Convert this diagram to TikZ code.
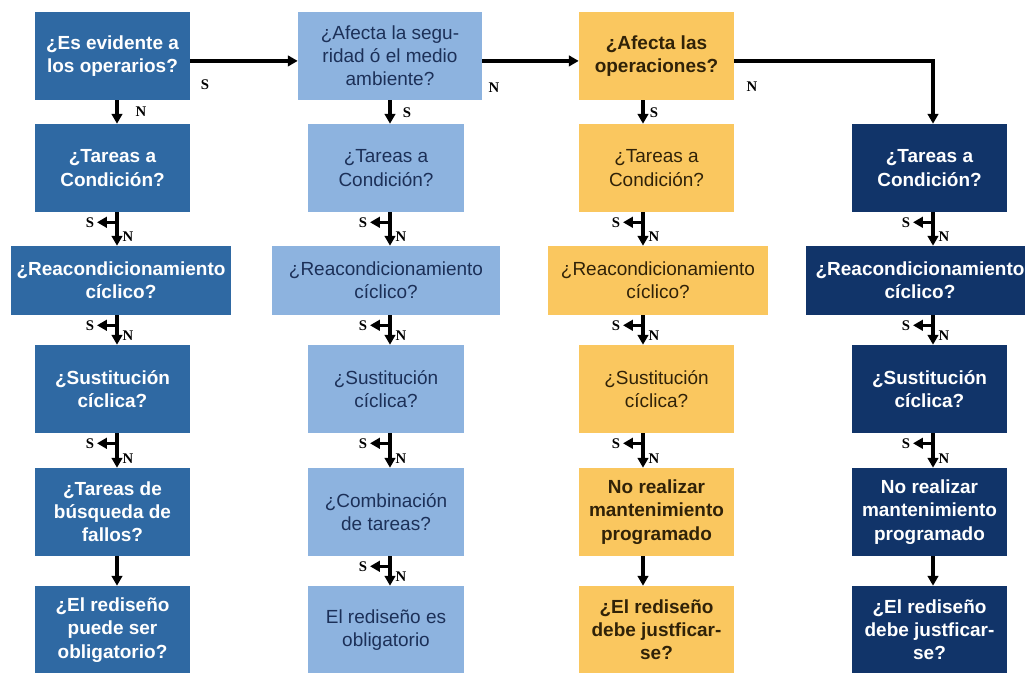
\documentclass[tikz,border=0pt]{standalone}
\usepackage{fontspec}
\setmainfont{Liberation Sans}
\newfontfamily\lblfont{Liberation Serif}
\usetikzlibrary{arrows.meta,calc}
\definecolor{colA}{RGB}{47,105,163}
\definecolor{colB}{RGB}{141,179,223}
\definecolor{colC}{RGB}{250,199,95}
\definecolor{colD}{RGB}{17,52,105}
\definecolor{txtB}{RGB}{28,48,88}
\definecolor{txtC}{RGB}{48,34,8}
\tikzset{
  box/.style={rectangle, inner sep=2pt, align=center, minimum width=3.875cm, minimum height=2.2cm,
    font=\fontsize{13.5}{16.5}\selectfont\bfseries},
  wide/.style={minimum width=5.5cm, minimum height=1.725cm},
  thin/.style={font=\fontsize{13.5}{16.5}\selectfont},
  boxA/.style={box, fill=colA, text=white},
  boxB/.style={box, thin, fill=colB, text=txtB},
  boxC/.style={box, fill=colC, text=txtC},
  boxD/.style={box, fill=colD, text=white},
  arr/.style={line width=2.3pt, -{Triangle[length=7pt,width=7.5pt]}},
  lbl/.style={font=\lblfont\fontsize{10.5}{12}\selectfont\bfseries, inner sep=1pt},
}
\begin{document}
\begin{tikzpicture}[x=0.025cm, y=-0.025cm]
\useasboundingbox (0,0) rectangle (1025,672);
\clip (0,0) rectangle (1025,672);
% column 1
\node[boxA] (c1r1) at (112.5,56) {¿Es evidente a\\los operarios?};
\node[boxA] (c1r2) at (112.5,168) {¿Tareas a\\Condición?};
\node[boxA, wide] (c1r3) at (121,280.5) {¿Reacondicionamiento\\cíclico?};
\node[boxA] (c1r4) at (112.5,389) {¿Sustitución\\cíclica?};
\node[boxA] (c1r5) at (112.5,512) {¿Tareas de\\búsqueda de\\fallos?};
\node[boxA] (c1r6) at (112.5,630) {¿El rediseño\\puede ser\\obligatorio?};
% column 2
\node[boxB, minimum width=4.6cm] (c2r1) at (390,56) {¿Afecta la segu-\\ridad ó el medio\\ambiente?};
\node[boxB] (c2r2) at (386,168) {¿Tareas a\\Condición?};
\node[boxB, wide, minimum width=5.7cm] (c2r3) at (386,280.5) {¿Reacondicionamiento\\cíclico?};
\node[boxB] (c2r4) at (386,389) {¿Sustitución\\cíclica?};
\node[boxB] (c2r5) at (386,512) {¿Combinación\\de tareas?};
\node[boxB] (c2r6) at (386,630) {El rediseño es\\obligatorio};
% column 3
\node[boxC] (c3r1) at (656.5,56) {¿Afecta las\\operaciones?};
\node[boxC, thin] (c3r2) at (656.5,168) {¿Tareas a\\Condición?};
\node[boxC, thin, wide] (c3r3) at (658,280.5) {¿Reacondicionamiento\\cíclico?};
\node[boxC, thin] (c3r4) at (656.5,389) {¿Sustitución\\cíclica?};
\node[boxC] (c3r5) at (656.5,512) {No realizar\\mantenimiento\\programado};
\node[boxC] (c3r6) at (656.5,630) {¿El rediseño\\debe justficar-\\se?};
% column 4
\node[boxD] (c4r2) at (929.5,168) {¿Tareas a\\Condición?};
\node[boxD, wide, minimum width=5.7cm] (c4r3) at (920,280.5) {¿Reacondicionamiento\\cíclico?};
\node[boxD] (c4r4) at (929.5,389) {¿Sustitución\\cíclica?};
\node[boxD] (c4r5) at (929.5,512) {No realizar\\mantenimiento\\programado};
\node[boxD] (c4r6) at (929.5,630) {¿El rediseño\\debe justficar-\\se?};
% arrow columns
\coordinate (x1) at (117,0);
\coordinate (x2) at (390,0);
\coordinate (x3) at (643,0);
\coordinate (x4) at (933,0);
% first decisions
\draw[arr] ([yshift=-3.5pt]c1r1.east) -- ([yshift=-3.5pt]c2r1.west);
\draw[arr] ([yshift=-3.5pt]c2r1.east) -- ([yshift=-3.5pt]c3r1.west);
\draw[arr] ([yshift=-3.5pt]c3r1.east) -| (c4r2.north -| x4);
\node[lbl] (s1) at (205,85) {S};
\node[lbl] (n2) at (494,88) {N};
\node[lbl] (n3) at (752,87) {N};
\draw[arr] (c1r1.south -| x1) -- (c1r2.north -| x1);
\draw[arr] (c2r1.south -| x2) -- (c2r2.north -| x2);
\draw[arr] (c3r1.south -| x3) -- (c3r2.north -| x3);
\node[lbl] (n1) at (141,112) {N};
\node[lbl] (s2) at (407,113) {S};
\node[lbl] (s3) at (654,113) {S};
% S/N junctions
\foreach \col/\up/\dn in {1/2/3,1/3/4,1/4/5,2/2/3,2/3/4,2/4/5,2/5/6,3/2/3,3/3/4,3/4/5,4/2/3,4/3/4,4/4/5}{
  \draw[arr] (c\col r\up.south -| x\col) -- (c\col r\dn.north -| x\col);
  \draw[arr] ($(c\col r\up.south -| x\col)+(0,10)$) -- ++(-20,0) node[lbl, left] (js\col\up) {S};
  \node[lbl] (jn\col\up) at ($(c\col r\dn.north -| x\col)+(11,-9)$) {N};
}
% last steps
\draw[arr] (c1r5.south -| x1) -- (c1r6.north -| x1);
\draw[arr] (c3r5.south -| x3) -- (c3r6.north -| x3);
\draw[arr] (c4r5.south -| x4) -- (c4r6.north -| x4);
\end{tikzpicture}
\end{document}
